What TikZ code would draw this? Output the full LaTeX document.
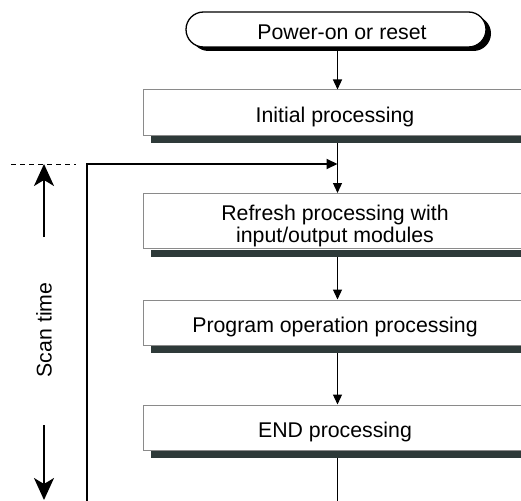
\documentclass[tikz,border=0pt]{standalone}
\usepackage{fontspec}
\setmainfont{Liberation Sans}
\usetikzlibrary{arrows.meta,calc,shadows}

\definecolor{bardark}{HTML}{2E3A39}
\definecolor{boxedge}{HTML}{8A8A8A}

\begin{document}
\begin{tikzpicture}[x=1pt, y=-1pt,
  every node/.style={font=\fontsize{21.3}{22}\selectfont},
  procbox/.style={draw=boxedge, line width=1pt, fill=white, inner sep=0pt,
    minimum width=384pt, minimum height=45pt, text height=19pt, text depth=0pt},
  terminal/.style={draw=black, line width=1.3pt, fill=white, inner sep=0pt,
    rounded corners=17.5pt, minimum width=300pt, minimum height=35pt,
    text height=21pt, text depth=0pt,
    drop shadow={shadow xshift=5pt, shadow yshift=-4pt, fill=black, opacity=1}},
  flow/.style={line width=1.2pt, -{Triangle[length=10pt, width=9pt]}},
  plain/.style={line width=1.2pt},
  loopline/.style={line width=2pt, -{Triangle[length=11pt, width=10pt]}},
  scanarrow/.style={line width=2pt, -{Stealth[length=22pt, width=20pt, inset=6pt]}},
  guide/.style={line width=0.9pt, dash pattern=on 5pt off 4pt},
]
\useasboundingbox (0,0) rectangle (521,500);
\clip (0,0) rectangle (521,500);

% start terminal
\node[terminal] (power) at (336,29.5) {\hspace{12pt}Power-on or reset};

% processing boxes (right side runs past the frame)
\node[procbox] (init) at (335,112.5) {Initial processing};
\node[procbox, minimum height=55pt, text height=15pt, text depth=17pt] (refresh) at (335,221)
  {\vtop{\halign{\hfil#\hfil\cr Refresh processing with\cr input/output modules\cr}}};
\node[procbox] (prog) at (335,322.5) {Program operation processing};
\node[procbox] (endp) at (335,427.5) {END processing};

% dark bars under each box
\foreach \b in {init,refresh,prog,endp}{
  \fill[bardark] ($(\b.south west)+(8,0.5)$) rectangle ($(\b.south east)+(0,7.5)$);
}

% junction where the scan loop re-enters
\coordinate (join) at (337.5,164);
\coordinate (endexit) at (337.5,510);
\coordinate (loopstart) at (87,510);

% flow connectors
\draw[flow] (power.south -| join) -- (init.north -| join);
\draw[flow] ($(init.south -| join)+(0,7.5)$) -- (refresh.north -| join);
\draw[flow] ($(refresh.south -| join)+(0,7.5)$) -- (prog.north -| join);
\draw[flow] ($(prog.south -| join)+(0,7.5)$) -- (endp.north -| join);
\draw[plain] ($(endp.south -| join)+(0,7.5)$) -- (endexit);

% return path of the scan loop
\draw[loopline] (loopstart) |- (join);

% scan time marker
\coordinate (guideA) at (11,164);
\coordinate (guideB) at (76,164);
\draw[guide] (guideA) -- (guideB);
\node[rotate=90, inner sep=0pt, text height=15pt, text depth=0pt] (scan) at (44,330) {Scan time};
\coordinate (upfrom) at (44,237);
\coordinate (uptip) at (44,164);
\coordinate (downfrom) at (44,425);
\coordinate (downtip) at (44,500);
\draw[scanarrow] (upfrom) -- (uptip);
\draw[scanarrow] (downfrom) -- (downtip);
\end{tikzpicture}
\end{document}
